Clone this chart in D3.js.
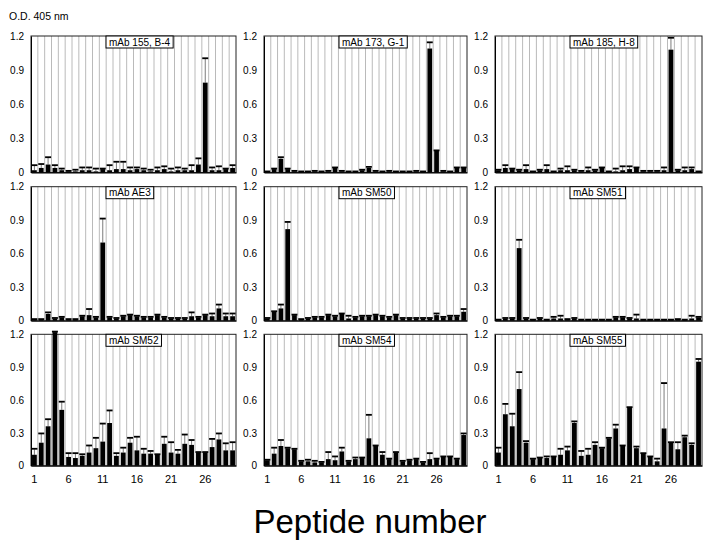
<!DOCTYPE html>
<html><head><meta charset="utf-8">
<script src="https://cdn.jsdelivr.net/npm/d3@7"></script>
<style>
html,body{margin:0;padding:0;background:#fff;}
svg{display:block;font-family:"Liberation Sans",Arial,sans-serif;}
</style></head>
<body>
<svg id="chart" width="715" height="551"></svg>
<script>
// ---- data ----
const peptides = d3.range(1, 31);
const xTickValues = [1, 6, 11, 16, 21, 26];
const yTickValues = [0, 0.3, 0.6, 0.9, 1.2];
const panelTitles = ["mAb 155, B-4", "mAb 173, G-1", "mAb 185, H-8",
                     "mAb AE3", "mAb SM50", "mAb SM51",
                     "mAb SM52", "mAb SM54", "mAb SM55"];
// mean O.D. per peptide
const v155 = [0.02,0.04,0.07,0.04,0.02,0.01,0.01,0.02,0.02,0.01,0.03,0.02,0.03,0.03,0.02,0.03,0.02,0.01,0.02,0.03,0.01,0.02,0.02,0.02,0.07,0.79,0.02,0.02,0.03,0.04];
const e155 = [0.06,0.07,0.13,0.06,0.03,0.01,0.02,0.04,0.04,0.03,0.03,0.06,0.09,0.09,0.04,0.04,0.03,0.02,0.04,0.05,0.03,0.04,0.03,0.06,0.12,1.00,0.04,0.05,0.03,0.06];
const v173 = [0.005,0.03,0.12,0.03,0.01,0.005,0.005,0.01,0.005,0.01,0.04,0.01,0.005,0.005,0.02,0.04,0.01,0.005,0.01,0.005,0.005,0.005,0.01,0.005,1.09,0.19,0.01,0.005,0.04,0.04];
const e173 = [0.005,0.03,0.13,0.03,0.01,0.005,0.005,0.01,0.005,0.01,0.04,0.01,0.005,0.005,0.02,0.045,0.01,0.005,0.01,0.005,0.005,0.005,0.01,0.005,1.14,0.19,0.01,0.005,0.04,0.04];
const v185 = [0.02,0.04,0.03,0.02,0.03,0.005,0.02,0.03,0.005,0.02,0.02,0.02,0.01,0.02,0.02,0.04,0.005,0.01,0.02,0.03,0.04,0.01,0.01,0.01,0.02,1.08,0.02,0.02,0.03,0.005];
const e185 = [0.02,0.06,0.03,0.02,0.06,0.005,0.02,0.06,0.005,0.03,0.05,0.02,0.01,0.04,0.02,0.04,0.005,0.03,0.05,0.05,0.04,0.01,0.01,0.01,0.04,1.18,0.02,0.04,0.04,0.005];
const vAE3 = [0.01,0.01,0.06,0.02,0.03,0.01,0.01,0.04,0.05,0.03,0.70,0.03,0.02,0.04,0.05,0.04,0.03,0.03,0.05,0.03,0.02,0.02,0.02,0.04,0.03,0.05,0.04,0.11,0.04,0.04];
const eAE3 = [0.01,0.01,0.07,0.02,0.03,0.01,0.01,0.04,0.10,0.03,0.91,0.03,0.02,0.04,0.05,0.04,0.03,0.03,0.05,0.03,0.02,0.02,0.02,0.07,0.03,0.05,0.06,0.14,0.06,0.06];
const vSM50 = [0.02,0.08,0.11,0.82,0.05,0.01,0.02,0.03,0.03,0.05,0.04,0.06,0.02,0.03,0.04,0.04,0.05,0.04,0.03,0.05,0.02,0.02,0.02,0.02,0.02,0.05,0.03,0.04,0.04,0.08];
const eSM50 = [0.02,0.08,0.14,0.88,0.05,0.01,0.02,0.03,0.03,0.05,0.04,0.06,0.04,0.03,0.04,0.04,0.05,0.04,0.03,0.05,0.02,0.02,0.02,0.02,0.02,0.06,0.03,0.04,0.04,0.10];
const vSM51 = [0.005,0.02,0.02,0.65,0.02,0.005,0.02,0.005,0.02,0.02,0.01,0.02,0.005,0.005,0.005,0.005,0.005,0.03,0.03,0.02,0.02,0.005,0.005,0.005,0.005,0.005,0.01,0.005,0.02,0.03];
const eSM51 = [0.005,0.02,0.02,0.72,0.02,0.005,0.02,0.005,0.03,0.04,0.01,0.02,0.005,0.005,0.005,0.005,0.005,0.03,0.03,0.02,0.05,0.005,0.005,0.005,0.005,0.005,0.01,0.005,0.04,0.03];
const vSM52 = [0.10,0.21,0.36,1.22,0.51,0.08,0.07,0.09,0.12,0.16,0.22,0.39,0.09,0.12,0.21,0.14,0.11,0.11,0.10,0.20,0.12,0.11,0.20,0.19,0.12,0.12,0.17,0.24,0.14,0.14];
const eSM52 = [0.15,0.29,0.42,1.22,0.58,0.11,0.11,0.10,0.18,0.25,0.38,0.50,0.11,0.16,0.25,0.26,0.15,0.13,0.10,0.26,0.21,0.14,0.28,0.23,0.12,0.12,0.24,0.29,0.20,0.21];
const vSM54 = [0.05,0.11,0.18,0.16,0.15,0.04,0.04,0.03,0.03,0.06,0.05,0.13,0.04,0.06,0.07,0.25,0.18,0.10,0.06,0.12,0.04,0.05,0.06,0.03,0.06,0.06,0.08,0.08,0.06,0.28];
const eSM54 = [0.05,0.16,0.23,0.16,0.15,0.04,0.05,0.04,0.03,0.12,0.08,0.16,0.04,0.07,0.07,0.46,0.18,0.12,0.06,0.12,0.04,0.05,0.06,0.03,0.11,0.06,0.08,0.08,0.06,0.29];
const vSM55 = [0.12,0.47,0.36,0.70,0.21,0.06,0.07,0.07,0.08,0.10,0.14,0.39,0.09,0.10,0.19,0.16,0.25,0.34,0.18,0.53,0.16,0.11,0.08,0.04,0.34,0.21,0.15,0.26,0.19,0.95];
const eSM55 = [0.16,0.56,0.47,0.85,0.22,0.06,0.07,0.08,0.08,0.15,0.17,0.40,0.13,0.15,0.21,0.16,0.25,0.37,0.18,0.53,0.17,0.11,0.08,0.06,0.75,0.21,0.21,0.27,0.20,0.97];

const panelValues = [v155, v173, v185, vAE3, vSM50, vSM51, vSM52, vSM54, vSM55];
const panelErrors = [e155, e173, e185, eAE3, eSM50, eSM51, eSM52, eSM54, eSM55];

// ---- layout ----
const colLeft = [31, 264, 495];
const colRight = [236, 467, 702];
const rowTop = [36, 186.7, 334.3];
const rowBottom = [172.5, 320.7, 465.7];

const svg = d3.select("#chart");

svg.append("text").attr("x", 9).attr("y", 20)
  .attr("font-size", 10.5).attr("fill", "#000").text("O.D. 405 nm");

panelTitles.forEach((title, k) => {
  const r = Math.floor(k / 3), c = k % 3;
  const x0 = colLeft[c], x1 = colRight[c], y0 = rowTop[r], y1 = rowBottom[r];
  const vals = panelValues[k], errs = panelErrors[k];

  const x = d3.scaleBand().domain(peptides).range([x0, x1])
    .paddingInner(0.3).paddingOuter(0.15);
  const y = d3.scaleLinear().domain([0, 1.2]).range([y1, y0]);
  const step = x.step();
  const g = svg.append("g");

  // vertical grid lines at peptide cell boundaries
  g.selectAll("line.grid").data(peptides.slice(1)).join("line")
    .attr("class", "grid")
    .attr("x1", d => x(d) - step * 0.15).attr("x2", d => x(d) - step * 0.15)
    .attr("y1", y0).attr("y2", y1)
    .attr("stroke", "#a8a8a8").attr("stroke-width", 0.8);

  // frame
  g.append("rect").attr("x", x0).attr("y", y0).attr("width", x1 - x0).attr("height", y1 - y0)
    .attr("fill", "none").attr("stroke", "#222").attr("stroke-width", 1);

  const data = peptides.map((p, i) => ({p, v: vals[i], e: errs[i]}));

  // error whiskers
  g.selectAll("line.err").data(data.filter(d => d.e > d.v)).join("line")
    .attr("class", "err")
    .attr("x1", d => x(d.p) + x.bandwidth() / 2).attr("x2", d => x(d.p) + x.bandwidth() / 2)
    .attr("y1", d => y(d.v)).attr("y2", d => y(d.e))
    .attr("stroke", "#444").attr("stroke-width", 0.7);
  // caps
  g.selectAll("line.cap").data(data).join("line")
    .attr("class", "cap")
    .attr("x1", d => x(d.p) - 0.6).attr("x2", d => x(d.p) + x.bandwidth() + 0.6)
    .attr("y1", d => y(d.e) - 0.5).attr("y2", d => y(d.e) - 0.5)
    .attr("stroke", "#000").attr("stroke-width", 1.8);
  // bars
  g.selectAll("rect.bar").data(data).join("rect")
    .attr("class", "bar")
    .attr("x", d => x(d.p)).attr("width", x.bandwidth())
    .attr("y", d => y(d.v)).attr("height", d => Math.max(0.6, y(0) - y(d.v)))
    .attr("fill", "#000");

  // y axis
  const ya = d3.axisLeft(y).tickValues(yTickValues).tickSize(0).tickPadding(7)
    .tickFormat(d => d === 0 ? "0" : d.toFixed(1));
  const yg = g.append("g").attr("transform", `translate(${x0},0)`).call(ya);
  yg.select(".domain").attr("stroke", "#000");
  yg.selectAll("text").attr("font-size", 10).attr("fill", "#000")
    .attr("font-family", "Liberation Sans, Arial, sans-serif");

  // x axis (bottom row only labelled)
  const xa = d3.axisBottom(x).tickSize(0).tickPadding(10)
    .tickValues(r === 2 ? xTickValues : []);
  const xg = g.append("g").attr("transform", `translate(0,${y1})`).call(xa);
  xg.select(".domain").attr("stroke", "#000");
  xg.selectAll("text").attr("font-size", 11).attr("fill", "#000")
    .attr("font-family", "Liberation Sans, Arial, sans-serif");

  // title box
  const tx = x0 + 75;
  const box = g.append("rect");
  const t = g.append("text").attr("x", tx + 3).attr("y", y0 + 9.5)
    .attr("font-size", 10).attr("fill", "#000").text(title);
  const w = t.node().getComputedTextLength();
  box.attr("x", tx).attr("y", y0).attr("width", w + 6).attr("height", 12)
    .attr("fill", "#fff").attr("stroke", "#000").attr("stroke-width", 1);
});

svg.append("text").attr("x", 370).attr("y", 533).attr("text-anchor", "middle")
  .attr("font-size", 33).attr("fill", "#000").text("Peptide number");
</script>
</body></html>
